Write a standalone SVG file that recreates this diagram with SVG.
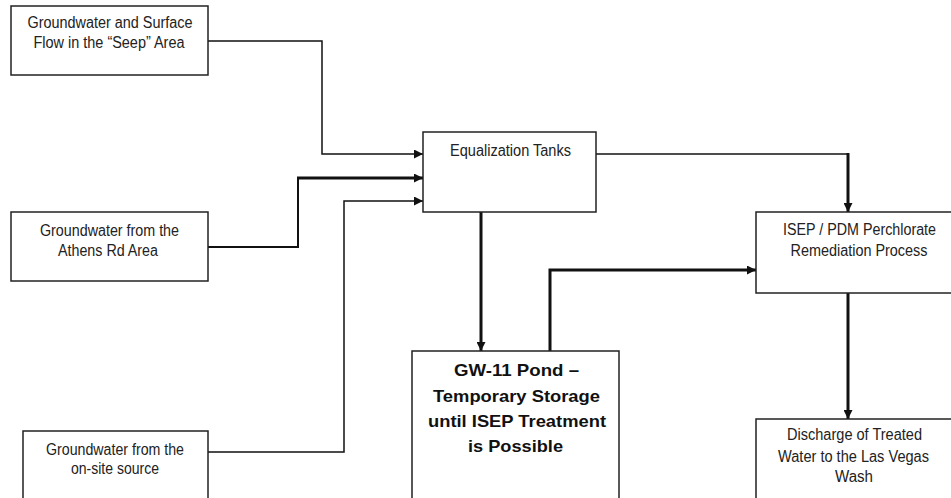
<svg xmlns="http://www.w3.org/2000/svg" width="951" height="498" viewBox="0 0 951 498">
<style>
.box{fill:#fff;stroke:#222;stroke-width:1.5}
.t{font-family:"Liberation Sans",Arial,sans-serif;font-size:16px;fill:#222;text-anchor:middle}
.b{font-family:"Liberation Sans",Arial,sans-serif;font-size:17px;font-weight:bold;fill:#111;text-anchor:middle}
.c{fill:none;stroke:#111;stroke-linejoin:miter}
.thin{stroke-width:1.5}
.mid{stroke-width:2}
.thick{stroke-width:3}
</style>
<defs>
<marker id="ah" markerUnits="userSpaceOnUse" viewBox="0 0 10 10" refX="10" refY="5" markerWidth="9" markerHeight="9" orient="auto">
<path d="M0,0 L10,5 L0,10 Z" fill="#111"/>
</marker>
</defs>
<rect width="951" height="498" fill="#fff"/>
<g id="connectors">
<path class="c thin" d="M208,41 H322 V154 H423" marker-end="url(#ah)"/>
<path class="c mid" d="M208,247 H298 V178"/>
<path class="c thick" d="M297,178 H423" marker-end="url(#ah)"/>
<path class="c thin" d="M208,452 H344 V201 H423" marker-end="url(#ah)"/>
<path class="c thick" d="M481,212 V351" marker-end="url(#ah)"/>
<path class="c thick" d="M550,351 V270 H756" marker-end="url(#ah)"/>
<path class="c thin" d="M596,154 H848"/>
<path class="c thick" d="M848,153 V212" marker-end="url(#ah)"/>
<path class="c thick" d="M848,293 V419" marker-end="url(#ah)"/>
</g>
<g id="seep">
<rect class="box" x="11" y="6" width="197" height="69"/>
<text class="t" x="110" y="28" textLength="165" lengthAdjust="spacingAndGlyphs">Groundwater and Surface</text>
<text class="t" x="109" y="48" textLength="151" lengthAdjust="spacingAndGlyphs">Flow in the “Seep” Area</text>
</g>
<g id="athens">
<rect class="box" x="11" y="212" width="197" height="69"/>
<text class="t" x="109.5" y="235.5" textLength="139" lengthAdjust="spacingAndGlyphs">Groundwater from the</text>
<text class="t" x="108" y="256" textLength="100" lengthAdjust="spacingAndGlyphs">Athens Rd Area</text>
</g>
<g id="onsite">
<rect class="box" x="23" y="431" width="185" height="80"/>
<text class="t" x="115" y="454.5" textLength="138" lengthAdjust="spacingAndGlyphs">Groundwater from the</text>
<text class="t" x="115" y="474" textLength="88" lengthAdjust="spacingAndGlyphs">on-site source</text>
</g>
<g id="equalization">
<rect class="box" x="423" y="132" width="173" height="80"/>
<text class="t" x="510.5" y="156" textLength="121" lengthAdjust="spacingAndGlyphs">Equalization Tanks</text>
</g>
<g id="pond">
<rect class="box" x="412" y="351" width="207" height="160"/>
<text class="b" x="516.5" y="376" textLength="125" lengthAdjust="spacingAndGlyphs">GW-11 Pond –</text>
<text class="b" x="516.5" y="401.5" textLength="167" lengthAdjust="spacingAndGlyphs">Temporary Storage</text>
<text class="b" x="517" y="427" textLength="178" lengthAdjust="spacingAndGlyphs">until ISEP Treatment</text>
<text class="b" x="515.5" y="452" textLength="95" lengthAdjust="spacingAndGlyphs">is Possible</text>
</g>
<g id="isep">
<rect class="box" x="756" y="212" width="210" height="81"/>
<text class="t" x="859.5" y="235" textLength="153" lengthAdjust="spacingAndGlyphs">ISEP / PDM Perchlorate</text>
<text class="t" x="859" y="256" textLength="137" lengthAdjust="spacingAndGlyphs">Remediation Process</text>
</g>
<g id="discharge">
<rect class="box" x="756" y="419" width="210" height="90"/>
<text class="t" x="854.5" y="440" textLength="135" lengthAdjust="spacingAndGlyphs">Discharge of Treated</text>
<text class="t" x="853.5" y="461.5" textLength="151" lengthAdjust="spacingAndGlyphs">Water to the Las Vegas</text>
<text class="t" x="854" y="481.5" textLength="38" lengthAdjust="spacingAndGlyphs">Wash</text>
</g>
</svg>
